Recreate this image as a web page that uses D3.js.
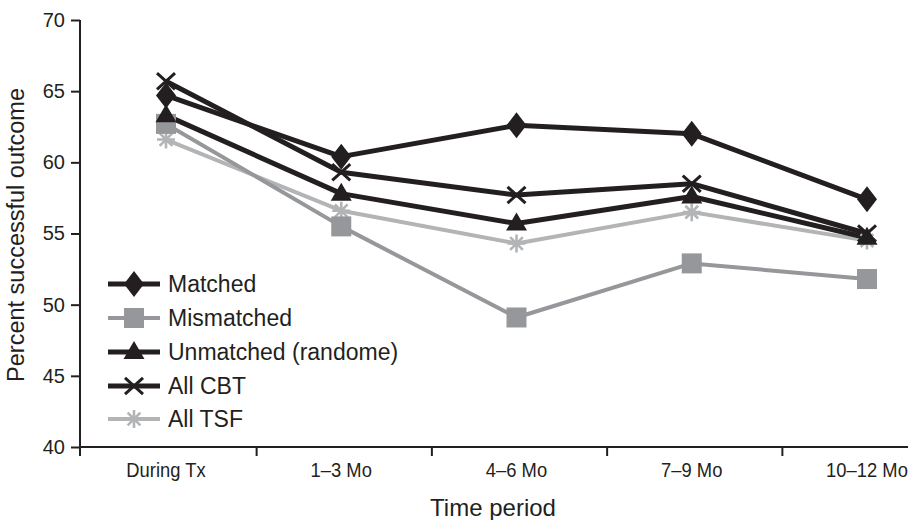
<!DOCTYPE html>
<html><head><meta charset="utf-8">
<script src="https://cdn.jsdelivr.net/npm/d3@7"></script>
<style>
html,body{margin:0;padding:0;background:#fff;}
svg{display:block;font-family:"Liberation Sans",Arial,Helvetica,sans-serif;}
</style></head>
<body><svg id="c" width="908" height="520"></svg>
<script>
const categories = ["During Tx", "1\u20133 Mo", "4\u20136 Mo", "7\u20139 Mo", "10\u201312 Mo"];
const matched    = [64.7, 60.4, 62.6, 62.0, 57.4];
const mismatched = [62.7, 55.5, 49.1, 52.9, 51.8];
const unmatched  = [63.3, 57.8, 55.7, 57.6, 54.7];
const allCBT     = [65.7, 59.3, 57.7, 58.5, 55.0];
const allTSF     = [61.6, 56.6, 54.3, 56.5, 54.5];
const seriesNames = ["Matched", "Mismatched", "Unmatched (randome)", "All CBT", "All TSF"];
const yTicks = [40, 45, 50, 55, 60, 65, 70];

const BLACK = "#231f20", GRAY = "#96979a", LIGHT = "#b3b4b6";

const svg = d3.select("#c");
const x = d3.scalePoint().domain(categories).range([166, 867]);
const y = d3.scaleLinear().domain([40, 70]).range([447, 20]);

// custom symbols
const diamond = {draw(ctx, s){ const w=10, h=13; ctx.moveTo(0,-h); ctx.lineTo(w,0); ctx.lineTo(0,h); ctx.lineTo(-w,0); ctx.closePath(); }};
const square = {draw(ctx, s){ const r=10; ctx.rect(-r,-r,2*r,2*r); }};
const triangle = {draw(ctx, s){ const w=10.5; ctx.moveTo(0,-11); ctx.lineTo(w,7); ctx.lineTo(-w,7); ctx.closePath(); }};
const cross = {draw(ctx, s){ const r=9; ctx.moveTo(-r,-r*0.9); ctx.lineTo(r,r*0.9); ctx.moveTo(r,-r*0.9); ctx.lineTo(-r,r*0.9); }};
const star = {draw(ctx, s){ const r=9; for(let i=0;i<4;i++){ const a=i*Math.PI/4; ctx.moveTo(-r*Math.cos(a),-r*Math.sin(a)); ctx.lineTo(r*Math.cos(a),r*Math.sin(a)); } }};

const series = [
  {name: seriesNames[0], values: matched,    color: BLACK, width: 5,   sym: diamond,  fill: true},
  {name: seriesNames[1], values: mismatched, color: GRAY,  width: 4,   sym: square,   fill: true},
  {name: seriesNames[2], values: unmatched,  color: BLACK, width: 5,   sym: triangle, fill: true},
  {name: seriesNames[3], values: allCBT,     color: BLACK, width: 5,   sym: cross,    fill: false, sw: 3},
  {name: seriesNames[4], values: allTSF,     color: LIGHT, width: 4,   sym: star,     fill: false, sw: 2.6}
];

// axes
const yAxis = d3.axisLeft(y).tickValues(yTicks).tickSize(9).tickPadding(6);
const gy = svg.append("g").attr("transform","translate(80,0)").call(yAxis);
gy.select(".domain").remove();
gy.selectAll(".tick line").attr("stroke", BLACK).attr("stroke-width", 2);
gy.selectAll(".tick text").attr("font-size", 20).attr("fill", BLACK).attr("font-family","Liberation Sans, Arial, sans-serif");
svg.append("line").attr("x1",80).attr("x2",80).attr("y1",y(70)).attr("y2",456).attr("stroke",BLACK).attr("stroke-width",2);

const xAxis = d3.axisBottom(x).tickSize(0).tickPadding(16);
const gx = svg.append("g").attr("transform","translate(0,447)").call(xAxis);
gx.select(".domain").remove();
gx.selectAll(".tick text").attr("font-size", 20).attr("fill", BLACK).attr("font-family","Liberation Sans, Arial, sans-serif");
gx.selectAll(".tick").each(function(d){
  d3.select(this).attr("transform", `translate(${x(d)},0) scale(0.92,1)`);
});
svg.append("line").attr("x1",79).attr("x2",908).attr("y1",447).attr("y2",447).attr("stroke",BLACK).attr("stroke-width",2);
const step = x.step();
const bounds = [80].concat(categories.slice(0,4).map(c => x(c) + step/2 + 3));
svg.selectAll(".xtick").data(bounds).enter().append("line").attr("class","xtick")
  .attr("x1", d=>d).attr("x2", d=>d).attr("y1",447).attr("y2",456).attr("stroke",BLACK).attr("stroke-width",2);

// axis titles
svg.append("text").attr("transform","translate(24,235) rotate(-90)").attr("text-anchor","middle")
  .attr("font-size",23.5).attr("fill",BLACK).text("Percent successful outcome");
svg.append("text").attr("x",493).attr("y",516).attr("text-anchor","middle")
  .attr("font-size",24).attr("fill",BLACK).text("Time period");

// lines
const line = d3.line().x((d,i)=>x(categories[i])).y(d=>y(d));
const drawOrder = [4,1,2,3,0];
drawOrder.forEach(k => {
  const s = series[k];
  svg.append("path").datum(s.values).attr("d", line).attr("fill","none")
    .attr("stroke", s.color).attr("stroke-width", s.width).attr("stroke-linejoin","round");
});
drawOrder.forEach(k => {
  const s = series[k];
  svg.selectAll(null).data(s.values).enter().append("path")
    .attr("transform", (d,i)=>`translate(${x(categories[i])},${y(d)})`)
    .attr("d", d3.symbol().type(s.sym)())
    .attr("fill", s.fill ? s.color : "none")
    .attr("stroke", s.fill ? "none" : s.color)
    .attr("stroke-width", s.sw || 0);
});

// legend
const legendY = [284, 318, 352, 386, 419];
series.forEach((s, i) => {
  const g = svg.append("g").attr("transform", `translate(108,${legendY[i]})`);
  g.append("line").attr("x1",0).attr("x2",52).attr("y1",0).attr("y2",0).attr("stroke", s.color).attr("stroke-width", s.width);
  g.append("path").attr("transform","translate(26,0)").attr("d", d3.symbol().type(s.sym)())
    .attr("fill", s.fill ? s.color : "none").attr("stroke", s.fill ? "none" : s.color).attr("stroke-width", s.sw || 0);
  g.append("text").attr("x",60).attr("y",0).attr("dy","0.36em").attr("font-size",23).attr("fill",BLACK).text(s.name);
});
</script></body></html>
